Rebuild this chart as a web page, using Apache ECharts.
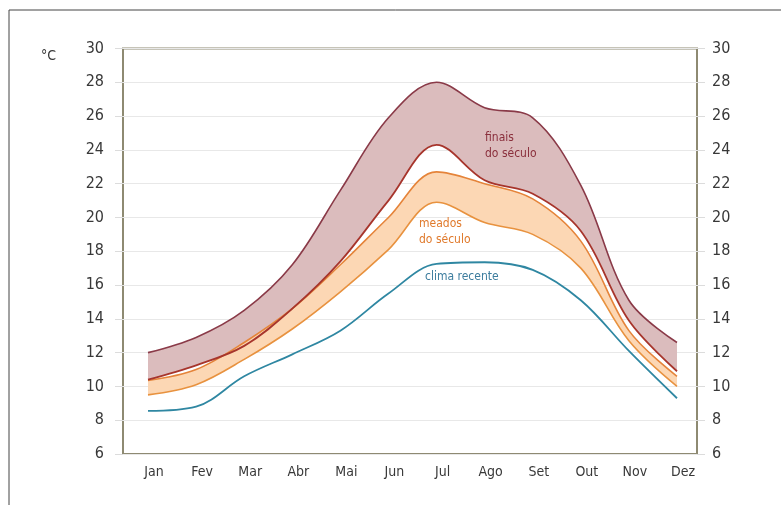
<!DOCTYPE html>
<html>
<head>
<meta charset="utf-8">
<script src="https://cdn.jsdelivr.net/npm/echarts@6/dist/echarts.min.js"></script>
<style>html,body{margin:0;padding:0;background:#fff}#c{width:781px;height:505px}</style>
</head>
<body>
<div id="c"></div>
<script>
const months = ['Jan','Fev','Mar','Abr','Mai','Jun','Jul','Ago','Set','Out','Nov','Dez'];
const yTicks = [6, 30, 2]; // min, max, interval
const finaisMax = [12.0, 12.9, 14.5, 17.2, 21.6, 25.9, 28.0, 26.5, 25.9, 21.9, 15.1, 12.6];
const finaisMin = [10.4, 11.25, 12.4, 14.6, 17.4, 21.0, 24.3, 22.2, 21.4, 19.2, 13.9, 10.9];
const meadosMax = [10.35, 11.0, 12.6, 14.6, 17.2, 20.0, 22.7, 22.0, 21.1, 18.6, 13.3, 10.6];
const meadosMin = [9.5, 10.1, 11.6, 13.4, 15.6, 18.1, 20.9, 19.7, 19.0, 17.0, 12.7, 10.0];
const climaRecente = [8.55, 8.8, 10.6, 11.9, 13.3, 15.5, 17.25, 17.35, 16.9, 15.1, 12.1, 9.3];

const FONT = "'Liberation Sans Narrow','DejaVu Sans Condensed','Open Sans',sans-serif";
const SM = 0.35;
const chart = echarts.init(document.getElementById('c'), null, {renderer: 'canvas'});
const diff = (a, b) => a.map((v, i) => +(v - b[i]).toFixed(3));

const yBase = {
  type: 'value', min: yTicks[0], max: yTicks[1], interval: yTicks[2],
  axisLine: {show: false},
  axisTick: {show: true, length: 8, lineStyle: {color: '#dcdcdc'}},
  splitLine: {show: false},
  axisLabel: {color: '#383838', fontSize: 16, fontFamily: FONT}
};

chart.setOption({
  animation: false,
  grid: [
    {left: 123, right: 84, top: 48.5, bottom: 51, show: true, borderColor: '#8e8a72', borderWidth: 2, backgroundColor: 'transparent'},
    {left: 148, right: 104, top: 48.5, bottom: 51}
  ],
  xAxis: [
    {gridIndex: 0, type: 'value', min: 0, max: 1, show: false},
    {gridIndex: 1, type: 'category', data: months, boundaryGap: false,
     axisLine: {show: false}, axisTick: {show: false},
     axisLabel: {color: '#383838', fontSize: 14, fontFamily: FONT, margin: 11, padding: [0, 0, 0, 12]}}
  ],
  yAxis: [
    Object.assign({}, yBase, {gridIndex: 0, position: 'left', axisLabel: Object.assign({}, yBase.axisLabel, {margin: 19}),
      splitLine: {show: true, lineStyle: {color: '#e8e8e8', width: 1.2}}}),
    Object.assign({}, yBase, {gridIndex: 0, position: 'right', axisLabel: Object.assign({}, yBase.axisLabel, {margin: 15})}),
    {gridIndex: 1, type: 'value', min: yTicks[0], max: yTicks[1], interval: yTicks[2], show: false}
  ],
  series: [
    {type: 'line', xAxisIndex: 1, yAxisIndex: 2, stack: 'f', data: finaisMin, smooth: SM, symbol: 'none', lineStyle: {opacity: 0}, z: 1},
    {type: 'line', xAxisIndex: 1, yAxisIndex: 2, stack: 'f', data: diff(finaisMax, finaisMin), smooth: SM, symbol: 'none', lineStyle: {opacity: 0}, areaStyle: {color: '#dbbcbd', opacity: 1}, z: 1},
    {type: 'line', xAxisIndex: 1, yAxisIndex: 2, stack: 'm', data: meadosMin, smooth: SM, symbol: 'none', lineStyle: {opacity: 0}, z: 2},
    {type: 'line', xAxisIndex: 1, yAxisIndex: 2, stack: 'm', data: diff(meadosMax, meadosMin), smooth: SM, symbol: 'none', lineStyle: {opacity: 0}, areaStyle: {color: '#fcd7b4', opacity: 1}, z: 2},
    {name: 'finais max', type: 'line', xAxisIndex: 1, yAxisIndex: 2, data: finaisMax, smooth: SM, symbol: 'none', lineStyle: {color: '#8a3a48', width: 1.6}, z: 5},
    {name: 'finais min', type: 'line', xAxisIndex: 1, yAxisIndex: 2, data: finaisMin, smooth: SM, symbol: 'none', lineStyle: {color: '#a7352c', width: 1.8}, z: 6},
    {name: 'meados max', type: 'line', xAxisIndex: 1, yAxisIndex: 2, data: meadosMax, smooth: SM, symbol: 'none', lineStyle: {color: '#e5843a', width: 1.6}, z: 5},
    {name: 'meados min', type: 'line', xAxisIndex: 1, yAxisIndex: 2, data: meadosMin, smooth: SM, symbol: 'none', lineStyle: {color: '#e8923f', width: 1.6}, z: 5},
    {name: 'clima recente', type: 'line', xAxisIndex: 1, yAxisIndex: 2, data: climaRecente, smooth: SM, symbol: 'none', lineStyle: {color: '#2f87a2', width: 1.8}, z: 5}
  ],
  graphic: {
    elements: [
      {type: 'rect', z: 100, shape: {x: 9, y: 10, width: 800, height: 520}, style: {fill: 'none', stroke: '#444', lineWidth: 1}, silent: true},
      {type: 'text', z: 100, left: 41, top: 49, style: {text: '°C', fill: '#383838', fontSize: 14, fontFamily: FONT}},
      {type: 'text', z: 100, left: 485, top: 130, style: {text: 'finais\ndo século', fill: '#8a2f3c', fontSize: 12, lineHeight: 16, fontFamily: FONT}},
      {type: 'text', z: 100, left: 419, top: 216, style: {text: 'meados\ndo século', fill: '#e07a2c', fontSize: 12, lineHeight: 16, fontFamily: FONT}},
      {type: 'text', z: 100, left: 425, top: 271, style: {text: 'clima recente', fill: '#3d7d9e', fontSize: 12, fontFamily: FONT}}
    ]
  }
});
</script>
</body>
</html>
